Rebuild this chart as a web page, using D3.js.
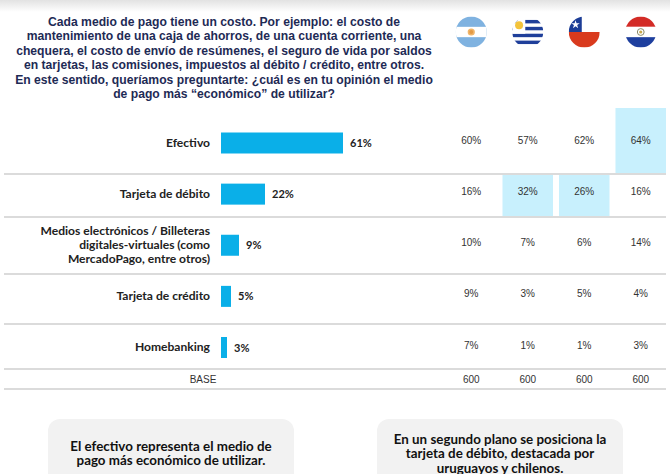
<!DOCTYPE html>
<html>
<head>
<meta charset="utf-8">
<script src="https://cdn.jsdelivr.net/npm/d3@7"></script>
<style>
  body { margin: 0; background: #fff; }
  svg { display: block; }
</style>
</head>
<body>
<div id="container"></div>
<script>
const titleLines = [
    'Cada medio de pago tiene un costo. Por ejemplo: el costo de',
    'mantenimiento de una caja de ahorros, de una cuenta corriente, una',
    'chequera, el costo de envío de resúmenes, el seguro de vida por saldos',
    'en tarjetas, las comisiones, impuestos al débito / crédito, entre otros.',
    'En este sentido, queríamos preguntarte: ¿cuál es en tu opinión el medio',
    'de pago más “económico” de utilizar?'
]
const categories = ['Efectivo', 'Tarjeta de débito', 'Medios electrónicos', 'Tarjeta de crédito', 'Homebanking']
const categoryLines = [
    ['Efectivo'],
    ['Tarjeta de débito'],
    ['Medios electrónicos / Billeteras', 'digitales-virtuales (como', 'MercadoPago, entre otros)'],
    ['Tarjeta de crédito'],
    ['Homebanking']
]
const totals = [61, 22, 9, 5, 3]
const countries = ['Argentina', 'Uruguay', 'Chile', 'Paraguay']
const argentina = [60, 16, 10, 9, 7]
const uruguay = [57, 32, 7, 3, 1]
const chile = [62, 26, 6, 5, 1]
const paraguay = [64, 16, 14, 4, 3]
const bases = [600, 600, 600, 600]
// [country, category] pairs shaded in the table
const highlights = [['Paraguay', 'Efectivo'], ['Uruguay', 'Tarjeta de débito'], ['Chile', 'Tarjeta de débito']]
const notes = [
    ['El efectivo representa el medio de', 'pago más económico de utilizar.'],
    ['En un segundo plano se posiciona la', 'tarjeta de débito, destacada por', 'uruguayos y chilenos.']
]

const byCountry = { Argentina: argentina, Uruguay: uruguay, Chile: chile, Paraguay: paraguay }

const w = 670
const h = 474
const barColor = '#0aafe8'
const cellColor = '#c8f0fd'
const lineColor = '#cfcfcf'
const labelFont = '"Century Gothic", "Lato", "Noto Sans", sans-serif'

const svg = d3.select('#container')
    .append('svg')
    .attr('width', w)
    .attr('height', h)

const defs = svg.append('defs')
const grad = defs.append('linearGradient')
    .attr('id', 'topfade')
    .attr('x1', 0).attr('x2', 0).attr('y1', 0).attr('y2', 1)
grad.append('stop').attr('offset', '0%').attr('stop-color', '#e2e2e2')
grad.append('stop').attr('offset', '100%').attr('stop-color', '#ffffff')

svg.append('rect')
    .attr('width', w)
    .attr('height', 12)
    .attr('fill', 'url(#topfade)')

// title, squeezed to the narrow width of the original
const title = svg.append('g')
const titleText = title.append('text')
    .attr('text-anchor', 'middle')
    .attr('font-family', '"Liberation Sans", Arial, sans-serif')
    .attr('font-weight', 'bold')
    .attr('font-size', 12.5)
    .attr('fill', '#1e2a55')
titleText.selectAll('tspan')
    .data(titleLines)
    .enter()
    .append('tspan')
    .attr('x', 0)
    .attr('y', (d, i) => 26 + i * 14.5)
    .text(d => d)
const widest = d3.max(titleText.selectAll('tspan').nodes(), n => n.getComputedTextLength())
title.attr('transform', `translate(224,0) scale(${418 / widest},1)`)

// scales
const x = d3.scaleLinear([0, 100], [221, 421])
const y = d3.scalePoint(categories, [143, 347.5])
const col = d3.scaleBand(countries, [446, 670]).paddingInner(0.035)
const separators = [174, 217, 274, 324, 369, 389]
const rowTop = d3.scaleOrdinal(categories, [108, 175, 218, 275, 325])
const rowBottom = d3.scaleOrdinal(categories, [173, 216, 273, 323, 368])

// highlighted cells
svg.selectAll('rect.cell')
    .data(highlights)
    .enter()
    .append('rect')
    .attr('class', 'cell')
    .attr('x', d => col(d[0]))
    .attr('y', d => rowTop(d[1]))
    .attr('width', col.bandwidth() - 4)
    .attr('height', d => rowBottom(d[1]) - rowTop(d[1]))
    .attr('fill', cellColor)

svg.selectAll('line.sep')
    .data(separators)
    .enter()
    .append('line')
    .attr('class', 'sep')
    .attr('x1', 4)
    .attr('x2', 666)
    .attr('y1', d => d)
    .attr('y2', d => d)
    .attr('stroke', lineColor)
    .attr('stroke-width', 1.5)

// category labels (stretched a little to the wide gothic face of the original)
const labels = svg.append('g')
    .attr('transform', 'translate(210,0) scale(1.05,1)')
    .selectAll('text.cat')
    .data(categories)
    .enter()
    .append('text')
    .attr('class', 'cat')
    .attr('text-anchor', 'end')
    .attr('font-family', labelFont)
    .attr('font-weight', 'bold')
    .attr('font-size', 11.5)
    .attr('fill', '#222')
labels.selectAll('tspan')
    .data((d, i) => categoryLines[i].map((t, j, a) => ({ t, j, n: a.length, c: d })))
    .enter()
    .append('tspan')
    .attr('x', 0)
    .attr('y', d => y(d.c) + 4 + (d.j - (d.n - 1) / 2) * 14)
    .text(d => d.t)

// bars
svg.selectAll('rect.bar')
    .data(categories)
    .enter()
    .append('rect')
    .attr('class', 'bar')
    .attr('x', x(0))
    .attr('y', d => y(d) - 10.5)
    .attr('width', (d, i) => x(totals[i]) - x(0))
    .attr('height', 21)
    .attr('fill', barColor)

svg.selectAll('text.val')
    .data(categories)
    .enter()
    .append('text')
    .attr('class', 'val')
    .attr('x', (d, i) => x(totals[i]) + 7)
    .attr('y', d => y(d) + 4)
    .attr('font-family', labelFont)
    .attr('font-weight', 'bold')
    .attr('font-size', 11)
    .attr('fill', '#222')
    .text((d, i) => totals[i] + '%')

// country columns
countries.forEach(c => {
    const cx = col(c) + col.bandwidth() / 2 - 2
    svg.selectAll(null)
        .data(categories)
        .enter()
        .append('text')
        .attr('x', cx)
        .attr('y', d => y(d) + 1)
        .attr('text-anchor', 'middle')
        .attr('font-family', '"Liberation Sans", Arial, sans-serif')
        .attr('font-size', 10)
        .attr('fill', '#333')
        .text((d, i) => byCountry[c][i] + '%')
})

svg.append('text')
    .attr('x', 203)
    .attr('y', 383)
    .attr('text-anchor', 'middle')
    .attr('font-family', '"Liberation Sans", Arial, sans-serif')
    .attr('font-size', 10)
    .attr('fill', '#333')
    .text('BASE')

svg.selectAll('text.base')
    .data(countries)
    .enter()
    .append('text')
    .attr('class', 'base')
    .attr('x', d => col(d) + col.bandwidth() / 2 - 2)
    .attr('y', 383)
    .attr('text-anchor', 'middle')
    .attr('font-family', '"Liberation Sans", Arial, sans-serif')
    .attr('font-size', 10)
    .attr('fill', '#333')
    .text((d, i) => bases[i])

// flags
const fr = 15.5
const fy = 32
function flag(c) {
    const cx = col(c) + col.bandwidth() / 2 - 2
    const id = 'clip-' + c
    defs.append('clipPath').attr('id', id)
        .append('circle').attr('cx', cx).attr('cy', fy).attr('r', fr)
    const g = svg.append('g').attr('clip-path', `url(#${id})`)
    const left = cx - fr
    const top = fy - fr
    const d = fr * 2
    if (c === 'Argentina') {
        g.append('rect').attr('x', left).attr('y', top).attr('width', d).attr('height', d).attr('fill', '#7fb2e0')
        g.append('rect').attr('x', left).attr('y', top + d / 3).attr('width', d).attr('height', d / 3).attr('fill', '#fff')
        g.append('circle').attr('cx', cx).attr('cy', fy).attr('r', 3.6).attr('fill', '#f0b56a')
        g.append('circle').attr('cx', cx).attr('cy', fy).attr('r', 2).attr('fill', '#e39a45')
    } else if (c === 'Uruguay') {
        g.append('rect').attr('x', left).attr('y', top).attr('width', d).attr('height', d).attr('fill', '#fff')
        d3.range(1, 9, 2).forEach(k => {
            g.append('rect').attr('x', left).attr('y', top + k * d / 9).attr('width', d).attr('height', d / 9).attr('fill', '#1f3f9a')
        })
        g.append('rect').attr('x', left).attr('y', top).attr('width', d * 0.42).attr('height', d * 5 / 9).attr('fill', '#fff')
        g.append('circle').attr('cx', left + d * 0.22).attr('cy', top + d * 0.28).attr('r', 4).attr('fill', '#f3c33c')
    } else if (c === 'Chile') {
        g.append('rect').attr('x', left).attr('y', top).attr('width', d).attr('height', d / 2).attr('fill', '#fff')
        g.append('rect').attr('x', left).attr('y', top).attr('width', d * 0.42).attr('height', d / 2).attr('fill', '#1c3d96')
        g.append('rect').attr('x', left).attr('y', fy).attr('width', d).attr('height', d / 2).attr('fill', '#d93a1e')
        g.append('path')
            .attr('d', d3.symbol(d3.symbolStar, 22)())
            .attr('transform', `translate(${left + d * 0.22},${top + d * 0.26})`)
            .attr('fill', '#fff')
    } else {
        g.append('rect').attr('x', left).attr('y', top).attr('width', d).attr('height', d / 3).attr('fill', '#d32b26')
        g.append('rect').attr('x', left).attr('y', top + d / 3).attr('width', d).attr('height', d / 3).attr('fill', '#fff')
        g.append('rect').attr('x', left).attr('y', top + 2 * d / 3).attr('width', d).attr('height', d / 3).attr('fill', '#1e3f9e')
        g.append('circle').attr('cx', cx).attr('cy', fy).attr('r', 3.4).attr('fill', 'none').attr('stroke', '#8a8a6a').attr('stroke-width', 1)
        g.append('circle').attr('cx', cx).attr('cy', fy).attr('r', 1.6).attr('fill', '#c9a94a')
    }
}
countries.forEach(flag)

// note boxes
const boxX = [48, 377]
notes.forEach((lines, i) => {
    svg.append('rect')
        .attr('x', boxX[i])
        .attr('y', 419)
        .attr('width', 246)
        .attr('height', 80)
        .attr('rx', 12)
        .attr('fill', '#f2f2f2')
    const t = svg.append('g')
        .attr('transform', `translate(${boxX[i] + 123},0) scale(1.07,1)`)
        .append('text')
        .attr('text-anchor', 'middle')
        .attr('font-family', labelFont)
        .attr('font-weight', 'bold')
        .attr('font-size', 12.5)
        .attr('fill', '#111')
    t.selectAll('tspan')
        .data(lines)
        .enter()
        .append('tspan')
        .attr('x', 0)
        .attr('y', (d, j) => (i === 0 ? 451 : 444) + j * 14.5)
        .text(d => d)
})
</script>
</body>
</html>
